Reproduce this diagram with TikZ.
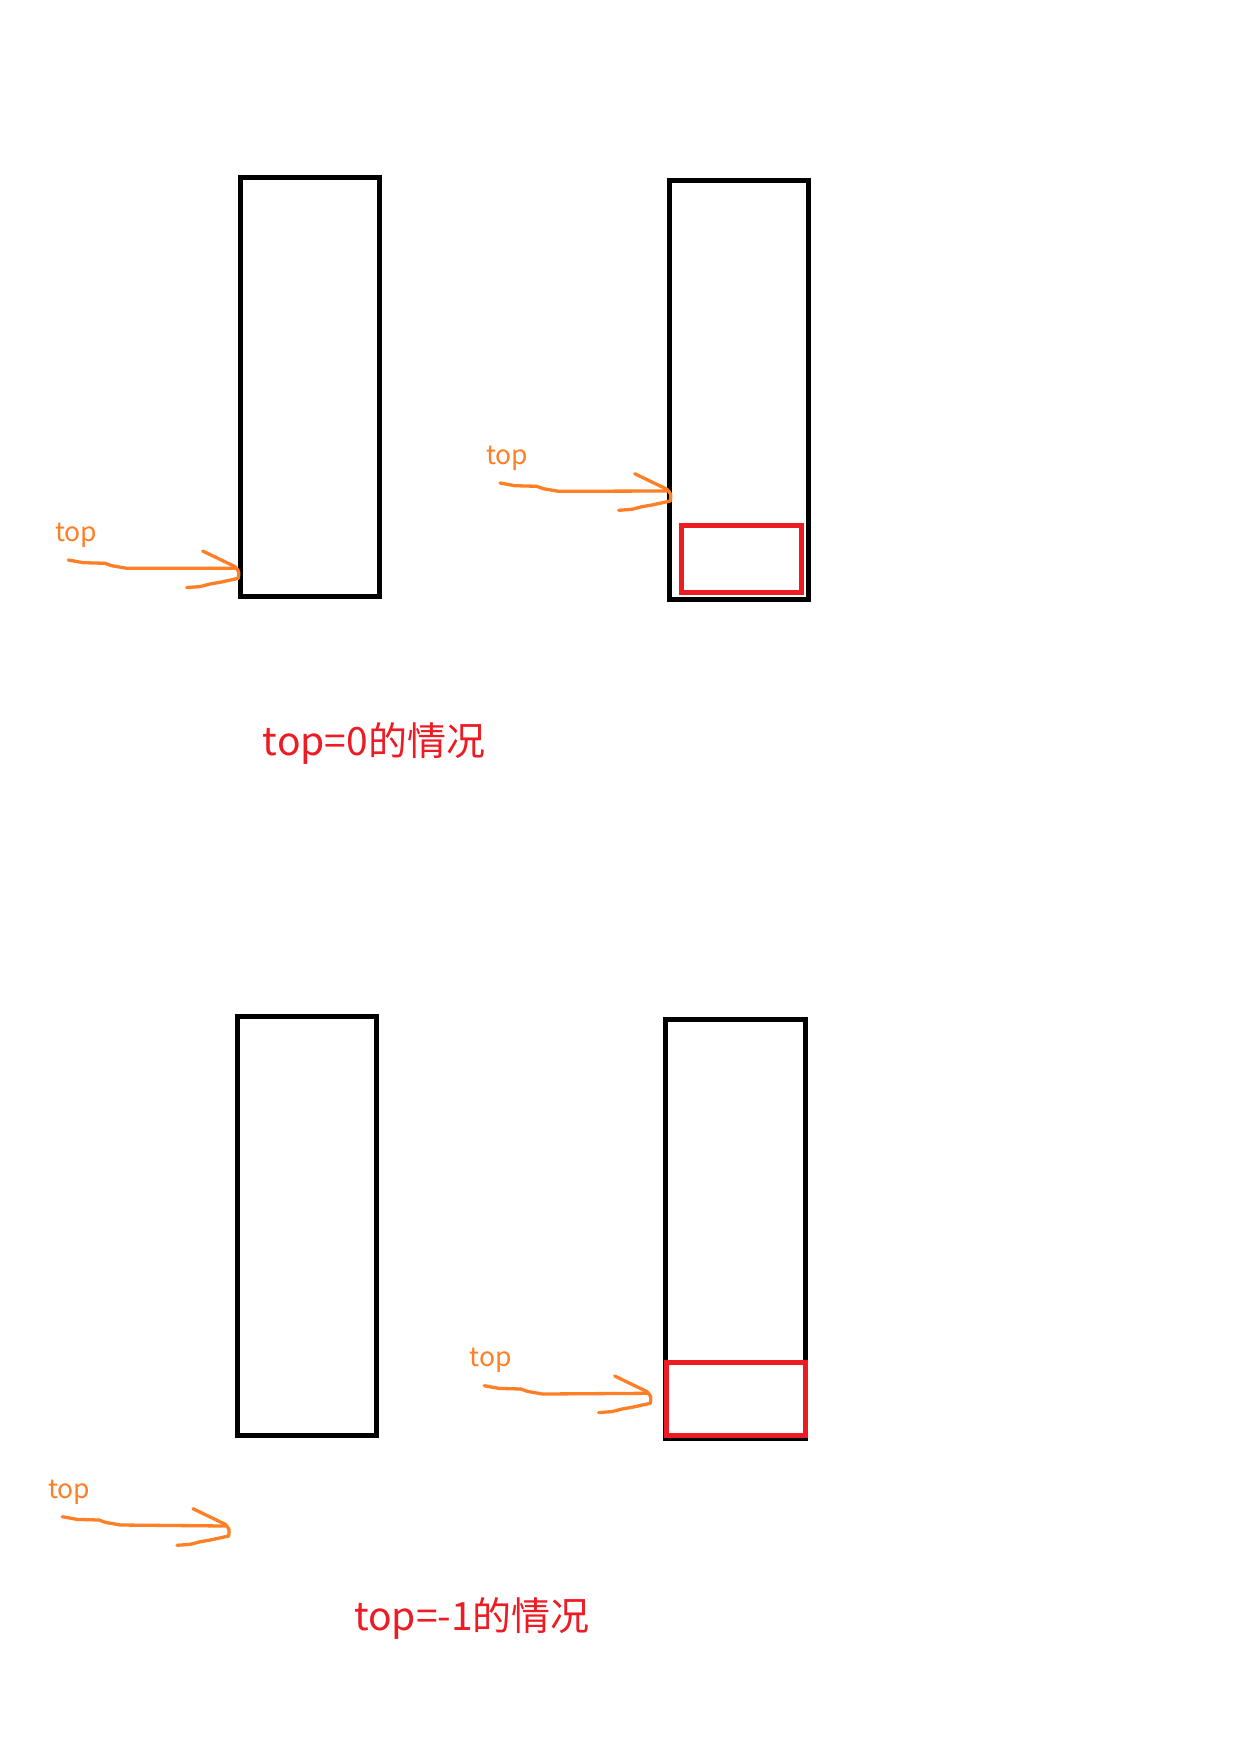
\documentclass[tikz,border=0pt]{standalone}
\usepackage{fontspec}
\setmainfont{Noto Sans CJK SC}
\usetikzlibrary{calc}
\definecolor{penOrange}{RGB}{255,127,39}
\definecolor{penRed}{RGB}{237,28,36}
\begin{document}
\begin{tikzpicture}[x=1pt,y=-1pt,
	stackBox/.style={draw=black, line width=5pt, minimum width=139.3pt, minimum height=419pt, inner sep=0pt, outer sep=0pt},
	elemBox/.style={draw=penRed, line width=5pt, inner sep=0pt, outer sep=0pt},
	penLine/.style={draw=penOrange, line width=3.3pt, line cap=round, line join=round},
	topLabel/.style={text=penOrange, font=\fontsize{26.5}{30}\selectfont, anchor=base west, inner sep=0pt},
	caseTitle/.style={text=penRed, font=\fontsize{39}{45}\selectfont, anchor=base west, inner sep=0pt}]
		\newcommand{\penArrow}[2]{% hand drawn arrow, tail #1, head #2
			\draw[penLine] (#1) -- ++(15,2.7) -- ++(21.7,0.6) -- ++(6.6,2.4) -- ++(15,2.6) -- (#2);
			\draw[penLine] ($(#2)+(-32.3,-17.3)$) -- ($(#2)+(0,-1.7)$) .. controls ($(#2)+(4.3,3.3)$) .. ($(#2)+(3.3,10)$)
				-- ($(#2)+(-15,14)$) -- ($(#2)+(-25,15.7)$) -- ($(#2)+(-35,18.3)$) -- ($(#2)+(-48.3,19.3)$);
		}
		
		\useasboundingbox[fill=white] (0,0) rectangle (1236,1744);	% page
		
		% top=0
		\node[stackBox] (stackA) at (309.9,386.7) {};		% empty stack
		\node[stackBox] (stackB) at (738.9,390) {};			% stack with one element
		\node[elemBox, minimum width=119.8pt, minimum height=66.7pt] (elemB) at (741.4,558.9) {};
		
		\node[topLabel] (topA) at (55,541.7) {top};
		\coordinate (tailA) at (68.3,560);
		\coordinate (headA) at (235,568.3);
		\penArrow{tailA}{headA}
		
		\node[topLabel] (topB) at (486,464) {top};
		\coordinate (tailB) at (500,483);
		\coordinate (headB) at (667,491);
		\penArrow{tailB}{headB}
		
		\node[caseTitle] (caseA) at (262.7,755) {top=0的情况};
		
		% top=-1
		\node[stackBox] (stackC) at (306.7,1226.2) {};		% empty stack
		\node[stackBox] (stackD) at (735.5,1228.8) {};		% stack with one element
		\node[elemBox, minimum width=139pt, minimum height=73.4pt] (elemD) at (735.5,1399) {};
		
		\node[topLabel] (topC) at (48,1498.3) {top};
		\coordinate (tailC) at (62.3,1516.7);
		\coordinate (headC) at (225.3,1526);
		\penArrow{tailC}{headC}
		
		\node[topLabel] (topD) at (469.7,1366) {top};
		\coordinate (tailD) at (484.2,1385.7);
		\coordinate (headD) at (647,1393.3);
		\penArrow{tailD}{headD}
		
		\node[caseTitle] (caseB) at (354,1630.7) {top=-1的情况};
\end{tikzpicture}
\end{document}
